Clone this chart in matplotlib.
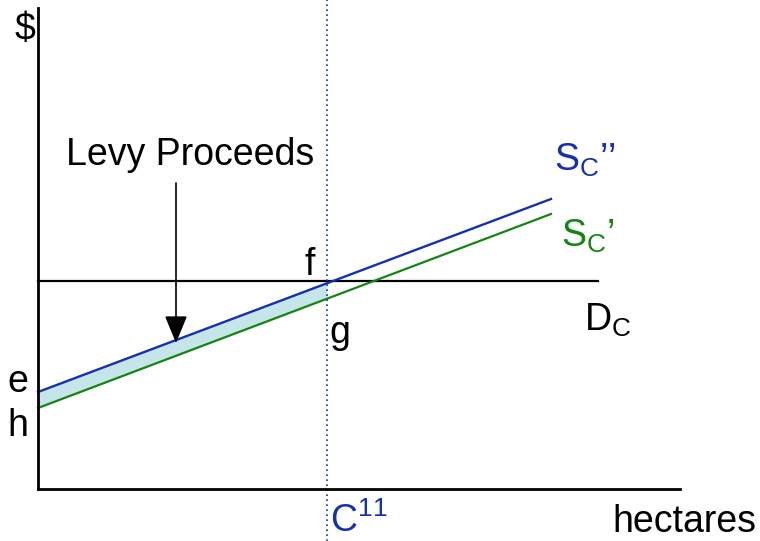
import matplotlib.pyplot as plt

plt.rcParams['font.family'] = ['Liberation Sans', 'DejaVu Sans']
plt.rcParams['mathtext.fontset'] = 'custom'
plt.rcParams['mathtext.rm'] = 'Liberation Sans'

# data space: hectares across, $ up (origin at the axes corner)
axis_x = [0, 642]
axis_y = [0, 481]
demand_x = [0, 560]
demand_level = 208
supply2_x = [0, 513]
supply2_y = [97, 290]
supply1_x = [0, 513]
supply1_y = [81, 275]
c11 = 289
arrow_x = 138
arrow_from = 306
arrow_to = 146

blue = '#1530b0'
green = '#138513'
fill = '#c5e5e8'
fs = 27

fig = plt.figure(figsize=(7.6, 5.41), dpi=100)
ax = fig.add_axes([0, 0, 1, 1])
ax.set_xlim(-38, 722)
ax.set_ylim(-52, 489)
ax.axis('off')


def line_at(xs, ys, x):
    return ys[0] + (ys[1] - ys[0]) * (x - xs[0]) / (xs[1] - xs[0])


# levy proceeds band
ax.fill_between([0, c11],
                [supply1_y[0], line_at(supply1_x, supply1_y, c11)],
                [supply2_y[0], line_at(supply2_x, supply2_y, c11)],
                color=fill, lw=0, zorder=1)

# axes
ax.plot([0, 0], axis_y, color='black', lw=2, zorder=3)
ax.plot(axis_x, [0, 0], color='black', lw=2, zorder=3)

ax.plot(demand_x, [demand_level] * 2, color='black', lw=1.6, zorder=2)
ax.plot(supply2_x, supply2_y, color=blue, lw=1.7, zorder=2)
ax.plot(supply1_x, supply1_y, color=green, lw=1.6, zorder=2)
ax.axvline(c11, color=blue, lw=1.2, ls=(0, (1, 2)), zorder=2)

ax.annotate('', xy=(arrow_x, arrow_to), xytext=(arrow_x, arrow_from),
            arrowprops=dict(arrowstyle='-|>,head_width=0.35,head_length=0.85',
                            mutation_scale=20, color='black', lw=1.2,
                            shrinkA=0, shrinkB=0))

ax.text(152, 334, 'Levy Proceeds', fontsize=fs, ha='center', va='center')
ax.text(-13, 459, '$', fontsize=fs, ha='center', va='center')
ax.text(-20, 107, 'e', fontsize=fs, ha='center', va='center')
ax.text(-20, 63, 'h', fontsize=fs, ha='center', va='center')
ax.text(272, 224, 'f', fontsize=fs, ha='center', va='center')
ax.text(302, 156, 'g', fontsize=fs, ha='center', va='center')
ax.text(516, 318, r'S$_\mathregular{C}$’’', fontsize=fs, color=blue,
        ha='left', va='baseline')
ax.text(523, 242, r'S$_\mathregular{C}$’', fontsize=fs, color=green,
        ha='left', va='baseline')
ax.text(546, 158, r'D$_\mathregular{C}$', fontsize=fs, color='black',
        ha='left', va='baseline')
ax.text(292, -43, r'C$^\mathregular{11}$', fontsize=fs, color=blue,
        ha='left', va='baseline')
ax.text(574, -43, 'hectares', fontsize=fs, ha='left', va='baseline')

fig.savefig('out.png', dpi=100)
